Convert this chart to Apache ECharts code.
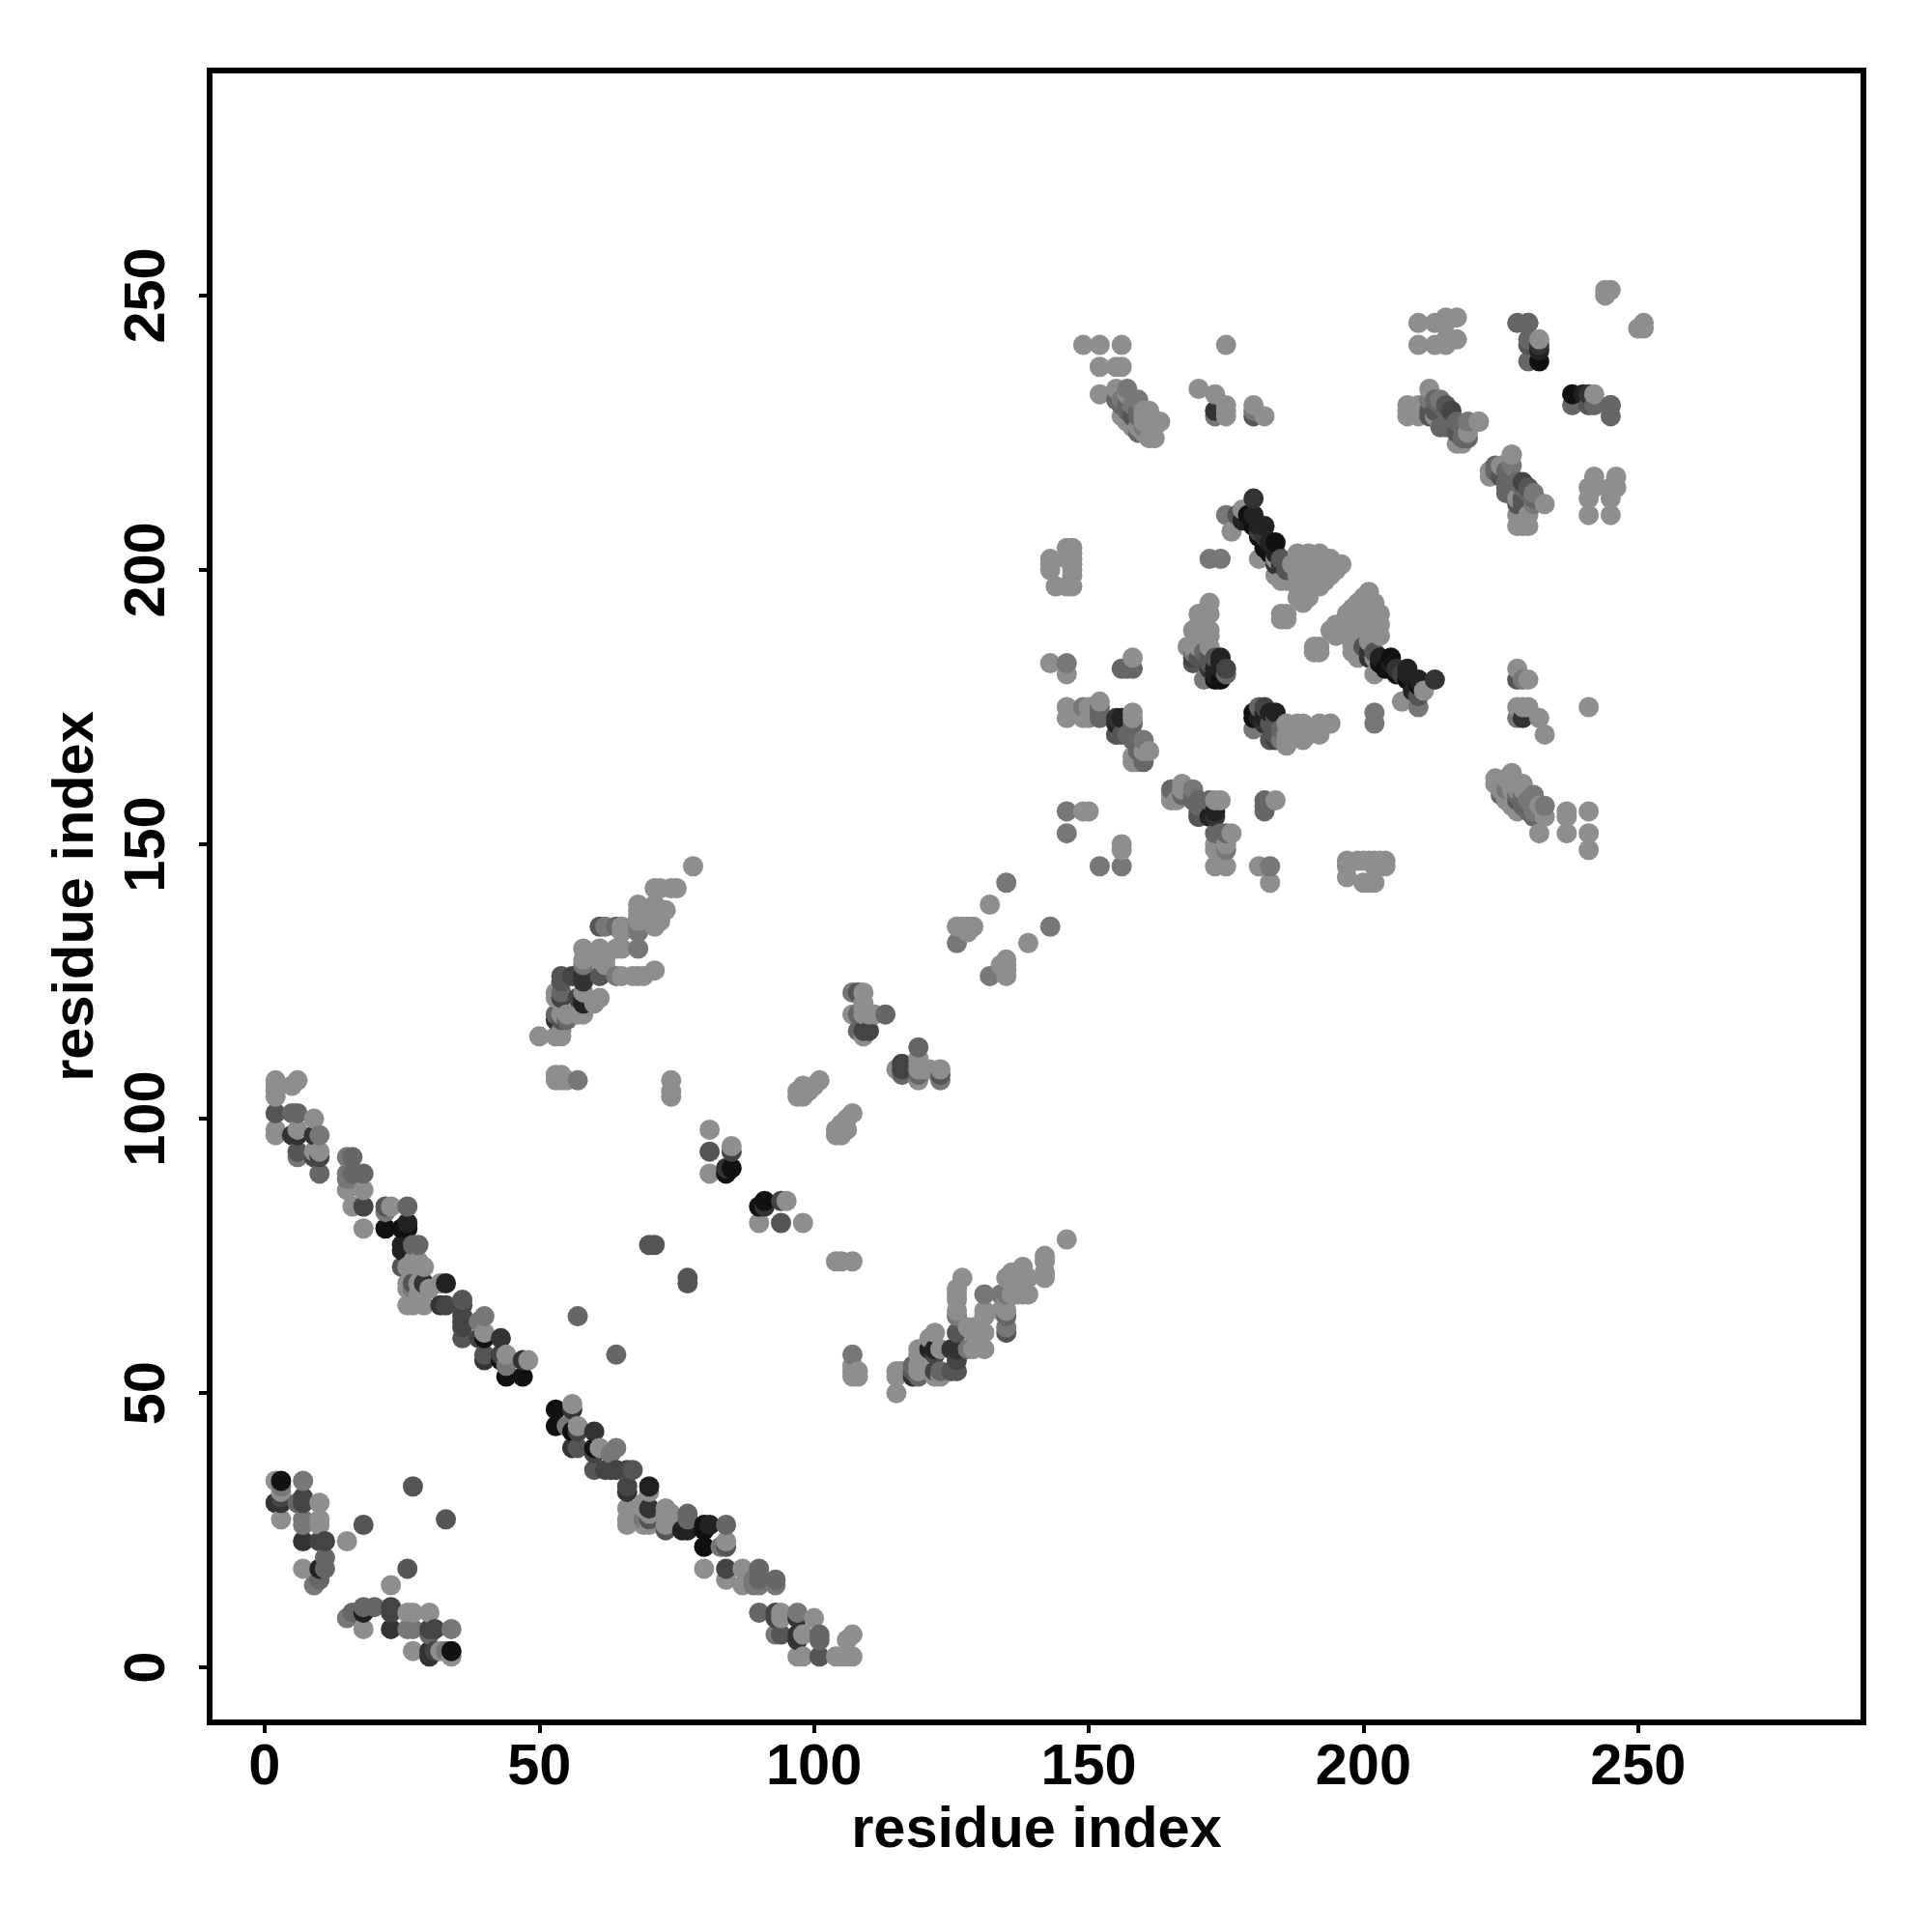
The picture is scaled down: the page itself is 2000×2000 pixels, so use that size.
<!DOCTYPE html>
<html><head><meta charset="utf-8">
<style>html,body{margin:0;padding:0;background:#fff}#c{width:2000px;height:2000px}</style>
<script src="https://cdn.jsdelivr.net/npm/echarts@6/dist/echarts.min.js"></script>
</head><body><div id="c"></div>
<script>
const axisTicks=[0,50,100,150,200,250];
const axisTitle='residue index';
// contact pairs [i,j], i<j, grouped by grey shade; the map is symmetric
const shade8c=[[2,34],[3,32],[3,27],[10,30],[10,27],[10,26],[7,18],[15,23],
[2,107],[2,106],[2,105],[2,104],[6,107],[5,106],[9,100],[2,98],[2,97],[6,98],[9,94],[10,94],[15,87],[18,87],[16,84],[18,80],[23,84],
[26,73],[27,74],[28,73],[29,73],[28,74],[26,70],[28,70],[26,69],[26,66],[27,66],[27,67],[29,66],[28,68],[29,69],[30,69],[32,70],[40,61],[44,57],[48,56],
[50,115],[53,115],[54,115],[54,116],[53,107],[54,107],[55,107],[53,108],[54,108],[53,123],[53,122],[58,123],[61,122],[65,126],[67,126],[68,126],[69,126],[71,127],
[54,119],[55,119],[57,119],[58,119],[58,129],[58,131],[61,131],[62,129],[61,129],[62,128],[65,131],[60,121],[65,135],[67,135],[71,135],[68,139],[68,138],[68,137],[73,138],[71,137],[71,136],[72,136],[71,139],[71,142],[72,142],[74,142],[75,142],[78,146],[64,131],[65,134],[68,136],
[74,107],[74,105],[74,104],[81,98],[81,90],[85,95],[97,105],[97,104],[98,104],[98,105],[98,106],[99,105],[100,106],[101,107],
[109,123],[107,119],[109,119],[110,119],[111,119],[109,115],[109,120],[109,121],[126,135],[127,135],[128,135],[128,134],[129,135],[132,139],
[149,241],[152,241],[156,241],[152,237],[155,237],[156,237],[152,232],[155,233],[157,232],[160,229],[161,229],[160,228],[160,227],[161,227],[163,227],[156,228],[157,228],[157,227],[158,226],[159,226],[160,225],[161,224],[162,224],[162,226],
[170,233],[173,232],[175,230],[175,229],[175,228],[180,230],[182,228],[175,241],
[143,201],[143,202],[143,200],[144,197],[146,204],[147,204],[147,203],[147,202],[147,201],[147,200],[147,199],[147,197],[146,197],[146,202],
[143,183],[146,181],[158,184],[146,175],[146,173],[149,173],[150,175],[150,173],[152,176],[158,166],[160,167],[161,167],[159,165],[158,165],[158,173],[158,174],
[172,194],[171,192],[171,191],[170,190],[171,190],[170,189],[171,188],[170,188],[172,188],[172,186],[168,186],[169,186],[170,186],[170,187],[185,191],[186,191],[186,192],[185,192],[178,211],[176,207],[181,202],[186,198],[172,189],[172,192],[169,189],[170,192],[184,202],[184,199],[185,198],
[188,203],[190,203],[192,203],[187,201],[189,201],[191,201],[193,201],[195,201],[196,201],[188,199],[190,199],[192,199],[194,199],[188,197],[190,197],[192,197],[188,195],[190,195],[189,194],[194,202],[195,200],[193,198],
[208,230],[208,228],[210,228],[210,230],[212,233],[213,228],[219,225],[221,227],[217,223],[218,223],[208,229],[227,221],
[210,245],[213,245],[215,246],[215,245],[217,246],[210,241],[213,241],[215,242],[215,241],[217,242],[232,242],[244,250],[244,251],[245,251],[149,156],[150,156]];
const shade77=[[7,34],[3,33],[7,27],[7,26],[9,15],[10,97],[6,93],[15,93],[15,90],[15,89],[16,89],[22,83],[27,69],[39,63],[40,64],[44,55],[68,131],[62,135],[68,135],[68,134],[57,107],[64,126],[58,128],[107,123],[126,132],[135,143],[146,183],[149,175],[157,233],[159,231],[158,230],[173,228],[175,210],[172,202],[174,202],[169,185],[212,231],[214,231],[219,227],[146,156],[146,152],[180,229],[171,180],[160,226],[156,231],[160,169]];
const shade66=[[6,30],[11,18],[11,20],[10,16],[5,101],[6,101],[10,90],[16,93],[16,90],[18,90],[26,84],[27,77],[28,77],[57,64],[53,119],[64,135],[108,119],[108,116],[113,119],[156,182],[157,182],[158,182],[152,175],[152,174],[152,173],[155,231],[156,230],[157,230],[157,229],[159,229],[159,228],[159,225],[158,172],[157,170],[158,170],[158,169],[159,169],[159,167],[160,165],[171,185],[175,181],[213,231],[214,230],[217,227],[218,226],[218,224],[219,224],[228,245],[230,245],[230,242],[230,238],[245,230],[54,123],[55,118],[215,226],[214,226],[215,229],[216,228],[216,226]];
const shade55=[[18,26],[27,33],[2,101],[6,94],[22,84],[25,73],[27,70],[36,60],[36,67],[40,57],[54,126],[61,126],[61,135],[54,125],[54,118],[70,77],[71,77],[81,94],[108,123],[180,228],[155,170],[156,170],[170,184],[173,184],[172,184],[212,229],[217,225],[230,241],[177,210],[158,228],[186,200],[185,202],[169,183],[172,183],[155,170],[212,228],[213,229],[215,230]];
const shade44=[[3,31],[7,31],[7,30],[10,23],[11,23],[10,93],[9,93],[18,84],[33,66],[36,66],[36,64],[36,63],[36,62],[39,60],[43,57],[54,122],[56,126],[57,122],[85,94],[109,116],[110,116],[169,184],[175,182],[216,229],[181,207]];
const shade33=[[2,30],[3,30],[7,23],[5,97],[6,97],[9,97],[29,70],[32,66],[40,56],[43,60],[47,56],[58,126],[58,125],[84,91],[173,229],[155,173],[172,182],[180,213],[184,201],[232,241],[182,206],[185,201],[53,118]];
const shade22=[[10,18],[26,81],[25,77],[26,77],[25,76],[33,70],[58,122],[58,121],[156,173],[155,172],[174,184],[173,182],[174,182],[173,181],[181,208],[182,208],[183,205],[180,210],[232,240],[174,183],[178,209],[184,203]];
const shade11=[[3,34],[22,80],[25,80],[26,80],[40,60],[43,56],[44,53],[47,53],[85,91],[84,90],[173,180],[174,180],[179,210],[180,208],[181,206],[184,205],[182,204],[183,203],[232,238]];
const groups=[['#8e8e8e',shade8c],['#777777',shade77],['#666666',shade66],['#555555',shade55],['#444444',shade44],['#333333',shade33],['#222222',shade22],['#111111',shade11]];
const points=[];
groups.forEach(([color,pairs])=>pairs.forEach(([i,j])=>{points.push([i,j,color]);points.push([j,i,color]);}));
points.sort((a,b)=>a[0]-b[0]||a[1]-b[1]);
const fontFamily='"Liberation Sans", Arial, sans-serif';
const chart=echarts.init(document.getElementById('c'),null,{renderer:'canvas'});
const base={type:'value',min:-10,max:291,splitLine:{show:false},axisLine:{show:false,onZero:false},
 name:axisTitle,nameLocation:'middle',nameTextStyle:{fontFamily,fontWeight:'bold',fontSize:59.5,color:'#000'},
 axisTick:{show:true,customValues:axisTicks,length:11,lineStyle:{color:'#000',width:4}}};
chart.setOption({animation:false,backgroundColor:'#fff',
 grid:{left:217,right:71,top:73,bottom:217,show:true,borderColor:'#000',borderWidth:6,backgroundColor:'#fff'},
 xAxis:Object.assign({},base,{nameGap:82,axisLabel:{customValues:axisTicks,fontFamily,fontWeight:'bold',fontSize:59.5,color:'#000',margin:18}}),
 yAxis:Object.assign({},base,{nameGap:107,axisLabel:{customValues:axisTicks,fontFamily,fontWeight:'bold',fontSize:59.5,color:'#000',rotate:90,margin:33}}),
 series:[{type:'scatter',data:points,symbol:'circle',symbolSize:21,silent:true,clip:false,
  encode:{x:0,y:1},itemStyle:{opacity:1,color:p=>p.value[2]}}]});
</script></body></html>
